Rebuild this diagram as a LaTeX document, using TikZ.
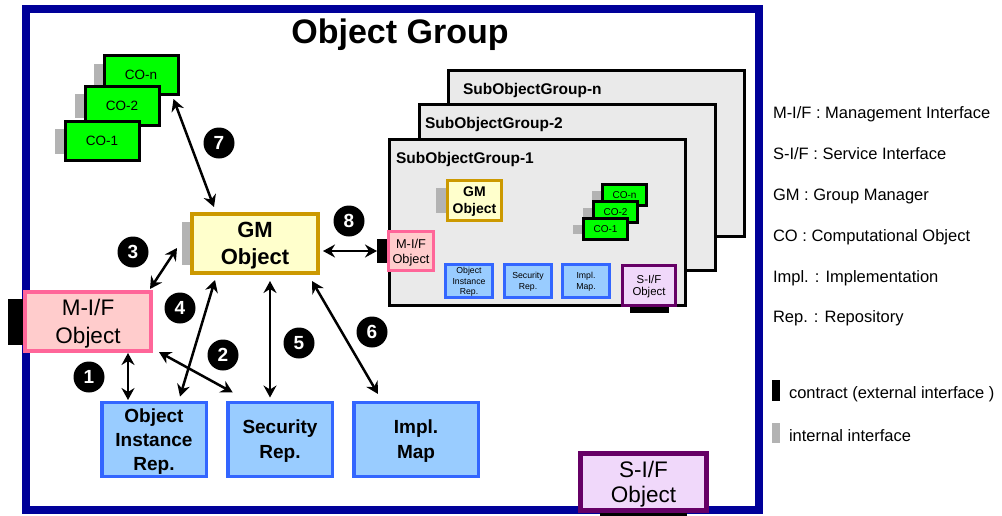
\documentclass[tikz,border=0pt]{standalone}
\usepackage{fontspec}
\setmainfont{Liberation Sans}
\usetikzlibrary{arrows.meta,calc}
\definecolor{framebl}{HTML}{000099}
\definecolor{cogreen}{HTML}{00FF00}
\definecolor{gmgold}{HTML}{CC9900}
\definecolor{gmfill}{HTML}{FFFFCC}
\definecolor{mifpink}{HTML}{FF6699}
\definecolor{miffill}{HTML}{FFCCCC}
\definecolor{repblue}{HTML}{3366FF}
\definecolor{repfill}{HTML}{99CCFF}
\definecolor{sifpurple}{HTML}{660066}
\definecolor{siffill}{HTML}{F0D8FA}
\definecolor{tabgray}{HTML}{B3B3B3}
\definecolor{sogfill}{HTML}{EAEAEA}
\tikzset{
  every node/.style={inner sep=0pt, outer sep=0pt, align=center, text depth=0pt},
  fs/.style n args={2}{font=\fontsize{#1}{#2}\selectfont},
  bfs/.style n args={2}{font=\bfseries\fontsize{#1}{#2}\selectfont},
  cobox/.style={draw=black, fill=cogreen, line width=3pt},
  gmbox/.style={draw=gmgold, fill=gmfill},
  mifbox/.style={draw=mifpink, fill=miffill},
  repbox/.style={draw=repblue, fill=repfill},
  sifbox/.style={draw=sifpurple, fill=siffill},
  sogbox/.style={draw=black, fill=sogfill, line width=3pt, minimum width=296pt, minimum height=166pt},
  gtab/.style={fill=tabgray},
  btab/.style={fill=black},
  twoway/.style={line width=2.5pt,
    {Stealth[length=12pt,width=13pt,inset=4pt]}-{Stealth[length=12pt,width=13pt,inset=4pt]}},
  badge/.style={circle, fill=black, minimum size=31pt, text=white, bfs={19}{19}},
  legend/.style={anchor=west, fs={16.5}{19}},
}
\begin{document}
\begin{tikzpicture}[x=1pt,y=-1pt]
\useasboundingbox (0,0) rectangle (1002,515);

% outer group frame
\draw[framebl, line width=8pt] (26,9) rectangle (759,510);
\node[bfs={34}{40}] (title) at (400,31) {Object Group};

% computational objects of the group
\node[cobox, minimum width=74pt, minimum height=39pt, fs={13.5}{16}] (con) at (141,75) {CO-n};
\node[gtab, anchor=east, minimum width=9pt, minimum height=22pt] (con-t) at ([xshift=-1.5pt]con.west) {};
\node[cobox, minimum width=74pt, minimum height=39pt, fs={13.5}{16}] (co2) at (122,106) {CO-2};
\node[gtab, anchor=east, minimum width=9pt, minimum height=24pt] (co2-t) at ([xshift=-1.5pt]co2.west) {};
\node[cobox, minimum width=74pt, minimum height=39pt, fs={13.5}{16}] (co1) at (102,141) {CO-1};
\node[gtab, anchor=east, minimum width=9pt, minimum height=25pt] (co1-t) at ([xshift=-1.5pt]co1.west) {};

% group manager
\node[gmbox, line width=4pt, minimum width=126pt, minimum height=59pt, bfs={22}{27}] (gm) at (255,243.5) {GM\\Object};
\node[gtab, anchor=east, minimum width=8pt, minimum height=43pt] (gm-t) at ([xshift=-2pt]gm.west) {};

% management interface object
\node[mifbox, line width=4pt, minimum width=126pt, minimum height=59pt, fs={22.5}{28}] (mif) at (88,321.5) {M-I/F\\Object};
\node[btab, anchor=east, minimum width=15pt, minimum height=46pt] (mif-t) at ([xshift=-2pt]mif.west) {};

% repositories
\node[repbox, line width=3.5pt, minimum width=104.5pt, minimum height=74pt, bfs={19}{24}] (oir) at (154,439.5) {Object\\Instance\\Rep.};
\node[repbox, line width=3.5pt, minimum width=104.5pt, minimum height=74pt, bfs={19}{25}] (sec) at (280,439.5) {Security\\Rep.};
\node[repbox, line width=3.5pt, minimum width=124.5pt, minimum height=74pt, bfs={19}{25}] (impl) at (416,439.5) {Impl.\\Map};

% service interface object of the group
\node[sifbox, line width=5pt, minimum width=126pt, minimum height=57pt, fs={22.5}{25}] (sif) at (643.5,482) {S-I/F\\Object};
\node[btab, anchor=north, minimum width=87pt, minimum height=8pt] (sif-t) at ([yshift=-2.5pt]sif.south) {};

% nested sub object groups
\node[sogbox] (sogn) at (596,153) {};
\node[bfs={15.5}{18}, anchor=west] (sogn-l) at (463,89) {SubObjectGroup-n};
\node[sogbox] (sog2) at (567,187) {};
\node[bfs={15.5}{18}, anchor=west] (sog2-l) at (425,123) {SubObjectGroup-2};
\node[sogbox] (sog1) at (537,222) {};
\node[bfs={15.5}{18}, anchor=west] (sog1-l) at (396,158) {SubObjectGroup-1};

% contents of SubObjectGroup-1
\node[gmbox, line width=3pt, minimum width=54pt, minimum height=40pt, bfs={14}{17}] (sgm) at (474.5,200.5) {GM\\Object};
\node[gtab, anchor=east, minimum width=10pt, minimum height=25pt] (sgm-t) at ([xshift=-1.5pt]sgm.west) {};
\node[mifbox, line width=3pt, minimum width=45pt, minimum height=39pt, fs={12.8}{15}] (smif) at (411,251) {M-I/F\\Object};
\node[btab, anchor=east, minimum width=10pt, minimum height=24pt] (smif-t) at ([xshift=-1.5pt]smif.west) {};

\node[cobox, minimum width=44pt, minimum height=21pt, fs={10}{12}] (sco-n) at (624.5,195) {CO-n};
\node[gtab, anchor=east, minimum width=9pt, minimum height=9pt] (sco-n-t) at ([xshift=-1.5pt]sco-n.west) {};
\node[cobox, minimum width=44pt, minimum height=21pt, fs={10}{12}] (sco-2) at (615.5,212) {CO-2};
\node[gtab, anchor=east, minimum width=9pt, minimum height=9pt] (sco-2-t) at ([xshift=-1.5pt]sco-2.west) {};
\node[cobox, minimum width=44pt, minimum height=21pt, fs={10}{12}] (sco-1) at (605.5,229) {CO-1};
\node[gtab, anchor=east, minimum width=9pt, minimum height=9pt] (sco-1-t) at ([xshift=-1.5pt]sco-1.west) {};

\node[repbox, line width=3pt, minimum width=47pt, minimum height=33pt, fs={8.7}{10.5}] (soir) at (469,281) {Object\\Instance\\Rep.};
\node[repbox, line width=3pt, minimum width=47pt, minimum height=33pt, fs={8.7}{11}] (ssec) at (528,281) {Security\\Rep.};
\node[repbox, line width=3pt, minimum width=47pt, minimum height=33pt, fs={8.7}{11}] (simpl) at (586,281) {Impl.\\Map.};
\node[sifbox, line width=3pt, minimum width=53pt, minimum height=40pt, fs={11.4}{12.5}] (ssif) at (649,285.5) {S-I/F\\Object};
\node[btab, anchor=north, minimum width=39pt, minimum height=6pt] (ssif-t) at ([yshift=-1.5pt]ssif.south) {};

% interactions
\draw[twoway] ($(mif.south)+(40,2)$) -- ($(oir.north)+(-26,-2.5)$);
\draw[twoway] ($(mif.south east)+(8,1)$) -- ($(sec.north west)+(5,-10)$);
\draw[twoway] ($(mif.north east)+(-1,-3)$) -- ($(gm.west)+(-15,4.5)$);
\draw[twoway] ($(oir.north)+(26,-6)$) -- ($(gm.south)+(-40,7)$);
\draw[twoway] ($(gm.south)+(15,8)$) -- ($(sec.north)+(-10,-5)$);
\draw[twoway] ($(gm.south east)+(-6,8)$) -- ($(impl.north)+(-38,-8.5)$);
\draw[twoway] ($(con.south east)+(-4.5,4.5)$) -- ($(gm.north)+(-41,-7)$);
\draw[twoway] ($(gm.east)+(5,7.5)$) -- (smif-t.west);

% interaction numbers
\node[badge] (b1) at (89,377) {1};
\node[badge] (b2) at (223,355) {2};
\node[badge] (b3) at (133,252) {3};
\node[badge] (b4) at (180,308) {4};
\node[badge] (b5) at (299,343) {5};
\node[badge] (b6) at (372,332) {6};
\node[badge] (b7) at (219,143) {7};
\node[badge] (b8) at (349,221) {8};

% legend
\node[legend] (l1) at (773,113) {M-I/F : Management Interface};
\node[legend] (l2) at (773,154) {S-I/F : Service Interface};
\node[legend] (l3) at (773,195) {GM : Group Manager};
\node[legend] (l4) at (773,236) {CO : Computational Object};
\node[legend] (l5) at (773,277) {Impl. : Implementation};
\node[legend] (l6) at (773,317) {Rep. : Repository};
\node[btab, minimum width=8pt, minimum height=21pt] (k1) at (776,390.5) {};
\node[legend] (k1-l) at (789,393) {contract (external interface )};
\node[gtab, minimum width=8pt, minimum height=20pt] (k2) at (776,433) {};
\node[legend] (k2-l) at (789,436) {internal interface};
\end{tikzpicture}
\end{document}
